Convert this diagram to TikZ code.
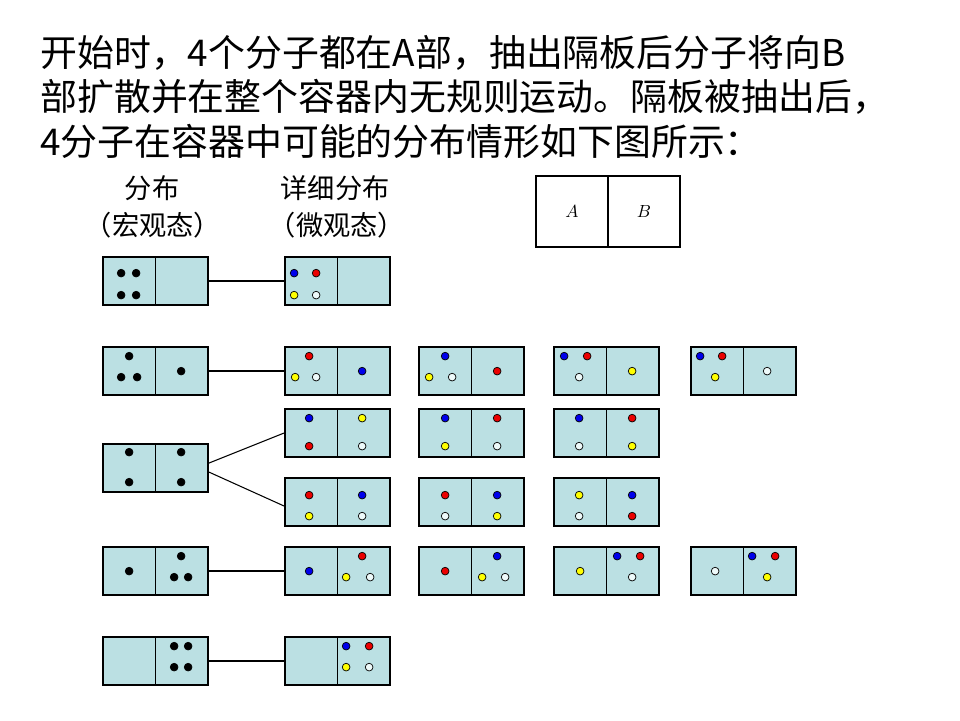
\documentclass[tikz,border=0pt]{standalone}
\usepackage{fontspec}
\newfontfamily\cjk{Noto Sans CJK SC}
\usetikzlibrary{calc}
\definecolor{boxfill}{RGB}{187,224,227}
\definecolor{mb}{RGB}{0,0,235}
\definecolor{mr}{RGB}{235,0,0}
\definecolor{my}{RGB}{255,255,0}
\definecolor{mw}{RGB}{238,250,250}
\definecolor{mk}{RGB}{0,0,0}

\begin{document}
\begin{tikzpicture}[x=0.02cm,y=-0.02cm,
    box/.style={draw,line width=1pt,fill=boxfill,minimum width=2.1cm,minimum height=0.96cm,inner sep=0pt},
    half/.style={draw,line width=1pt,minimum width=1.44cm,minimum height=1.42cm,inner sep=0pt,font=\fontsize{10}{12}\selectfont},
    head/.style={anchor=base west,inner sep=0pt,font=\cjk\fontsize{21}{26}\selectfont},
    label/.style={inner sep=0pt,font=\cjk\fontsize{15.5}{18}\selectfont}]
\useasboundingbox (0,0) rectangle (960,720);

\node[head] (line1) at (40,66) {开始时，4个分子都在A部，抽出隔板后分子将向B};
\node[head] (line2) at (40,110) {部扩散并在整个容器内无规则运动。隔板被抽出后，};
\node[head] (line3) at (40,155) {4分子在容器中可能的分布情形如下图所示：};

\node[label] (macro) at (152,188) {分布};
\node[label] (macro2) at (153,225) {（宏观态）};
\node[label] (micro) at (335,188) {详细分布};
\node[label] (micro2) at (337,225) {（微观态）};

\node[half] (partA) at (572,211.5) {$A$};
\node[half] (partB) at (644,211.5) {$B$};

\foreach \name/\x/\y in {M1/155.5/281, M2/155.5/371, M3/155.5/468, M4/155.5/571, M5/155.5/661,
    S1a/337.5/281, S2a/337.5/371, S2b/471.5/371, S2c/606.5/371, S2d/743.5/371,
    S3a/337.5/433, S3b/471.5/433, S3c/606.5/433, S4a/337.5/502, S4b/471.5/502, S4c/606.5/502,
    S5a/337.5/571, S5b/471.5/571, S5c/606.5/571, S5d/743.5/571, S6a/337.5/661}
    {\node[box] (\name) at (\x,\y) {};
     \draw[line width=1pt] (\name.north) -- (\name.south);}

\foreach \b/\x/\y/\c in {M1/19/17/mk, M1/34/17/mk, M1/19/39/mk, M1/34/39/mk,
    S1a/10/17/mb, S1a/32/17/mr, S1a/10/39/my, S1a/32/39/mw,
    M2/27/10/mk, M2/19/31/mk, M2/35/31/mk, M2/79/25/mk,
    S2a/25/10/mr, S2a/11/31/my, S2a/32/31/mw, S2a/78/25/mb,
    S2b/27/10/mb, S2b/11/31/my, S2b/34/31/mw, S2b/79/25/mr,
    S2c/11/10/mb, S2c/34/10/mr, S2c/26/31/mw, S2c/79/25/my,
    S2d/10/10/mb, S2d/32/10/mr, S2d/25/31/my, S2d/77/25/mw,
    M3/27/9/mk, M3/27/39/mk, M3/79/9/mk, M3/79/39/mk,
    S3a/25/10/mb, S3a/25/38/mr, S3a/78/10/my, S3a/78/38/mw,
    S3b/27/10/mb, S3b/27/38/my, S3b/79/10/mr, S3b/79/38/mw,
    S3c/26/10/mb, S3c/26/38/mw, S3c/79/10/mr, S3c/79/38/my,
    S4a/25/18/mr, S4a/25/39/my, S4a/78/18/mb, S4a/78/39/mw,
    S4b/27/18/mr, S4b/27/39/mw, S4b/79/18/mb, S4b/79/39/my,
    S4c/26/18/my, S4c/26/39/mw, S4c/79/18/mb, S4c/79/39/mr,
    M4/27/25/mk, M4/79/10/mk, M4/72/31/mk, M4/86/31/mk,
    S5a/25/25/mb, S5a/78/10/mr, S5a/62/31/my, S5a/86/31/mw,
    S5b/27/25/mr, S5b/79/10/mb, S5b/64/31/my, S5b/87/31/mw,
    S5c/27/25/my, S5c/64/10/mb, S5c/87/10/mr, S5c/79/31/mw,
    S5d/25/25/mw, S5d/62/10/mb, S5d/85/10/mr, S5d/77/31/my,
    M5/72/10/mk, M5/86/10/mk, M5/72/31/mk, M5/86/31/mk,
    S6a/62/10/mb, S6a/85/10/mr, S6a/62/31/my, S6a/85/31/mw}
    \filldraw[draw=black,line width=0.4pt,fill=\c] ($(\b.north west)+(\x,\y)$) circle (2.2pt);

\draw[line width=0.6pt] (M1.east) -- (S1a.west);
\draw[line width=0.6pt] (M2.east) -- (S2a.west);
\draw[line width=0.6pt] ([yshift=2.8pt]M3.east) -- (S3a.west);
\draw[line width=0.6pt] ([yshift=-2.3pt]M3.east) -- ([yshift=-2.3pt]S4a.west);
\draw[line width=0.6pt] (M4.east) -- (S5a.west);
\draw[line width=0.6pt] (M5.east) -- (S6a.west);
\end{tikzpicture}
\end{document}
